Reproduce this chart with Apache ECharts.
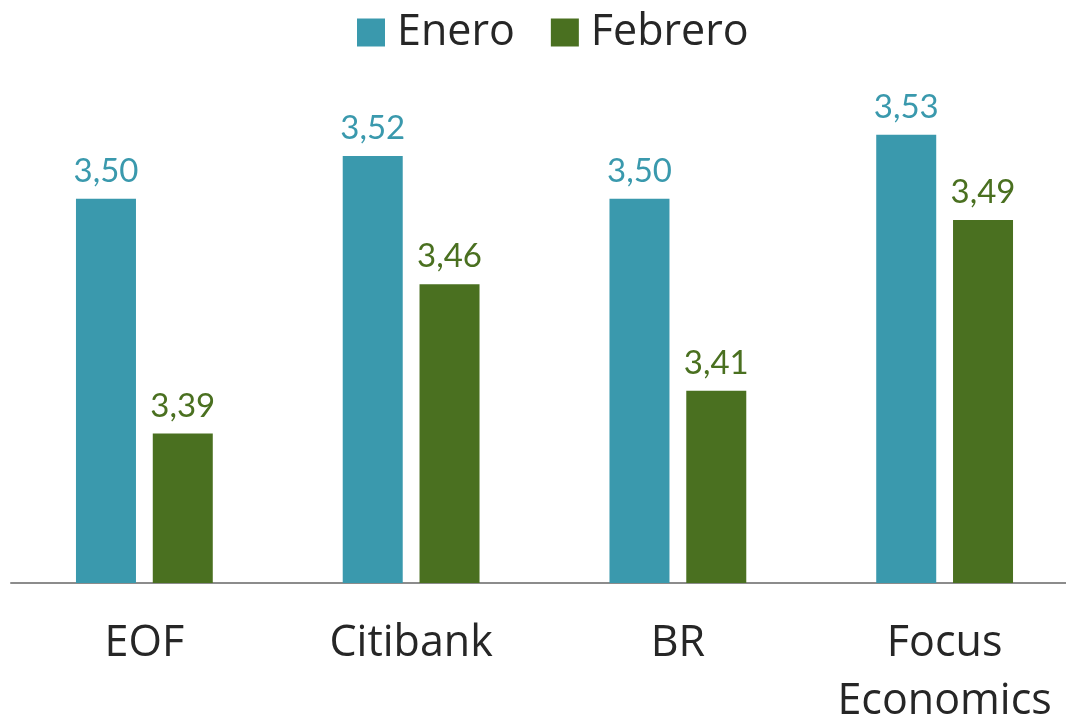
<!DOCTYPE html>
<html>
<head>
<meta charset="utf-8">
<script src="https://cdn.jsdelivr.net/npm/echarts@6/dist/echarts.min.js"></script>
<style>html,body{margin:0;padding:0;background:#fff;}#c{width:1066px;height:722px;}</style>
</head>
<body>
<div id="c"></div>
<script>
const categories = ['EOF', 'Citibank', 'BR', 'Focus\nEconomics'];
const seriesNames = ['Enero', 'Febrero'];
const enero = [3.50, 3.52, 3.50, 3.53];
const febrero = [3.39, 3.46, 3.41, 3.49];
const colors = ['#3A99AD', '#4A7020'];

const chart = echarts.init(document.getElementById('c'));
const fmt = p => p.value.toFixed(2).replace('.', ',');
function mk(name, data, color) {
  return {
    name: name, type: 'bar', data: data, barWidth: 60, barGap: '28%',
    itemStyle: { color: color },
    label: { show: true, position: 'top', distance: 11, color: color,
      fontFamily: 'Lato', fontSize: 33, formatter: fmt }
  };
}
chart.setOption({
  animation: false,
  legend: {
    top: 6, left: 352, itemWidth: 28, itemHeight: 28, itemGap: 36,
    icon: 'rect',
    textStyle: { fontFamily: 'Open Sans', fontSize: 43, color: '#262626', padding: [0, 0, 0, 7] },
    data: seriesNames
  },
  grid: { left: 11, right: -12, top: 92, bottom: 139, containLabel: false, outerBoundsMode: 'none' },
  xAxis: {
    type: 'category', data: categories,
    axisLine: { lineStyle: { color: '#8c8c8c', width: 2 } },
    axisTick: { show: false },
    axisLabel: { margin: 32, fontFamily: 'Open Sans', fontSize: 43, color: '#262626', lineHeight: 58, interval: 0 }
  },
  yAxis: { type: 'value', min: 3.32, max: 3.55, show: false, splitLine: { show: false } },
  series: [mk(seriesNames[0], enero, colors[0]), mk(seriesNames[1], febrero, colors[1])]
});
</script>
</body>
</html>
